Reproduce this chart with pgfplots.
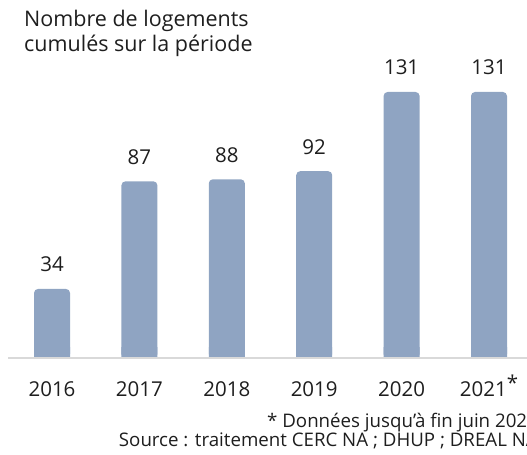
\documentclass[border=0pt]{standalone}
\usepackage{pgfplots}
\pgfplotsset{compat=1.18}
\usepackage{pgfplotstable}
\usepackage{fontspec}
\setmainfont{Open Sans}
\definecolor{barcol}{RGB}{143,164,194}
\definecolor{axcol}{RGB}{217,217,217}
\definecolor{txt}{RGB}{30,30,30}
\pgfplotstableread{
x y
0 34
1 87
2 88
3 92
4 131
5 131
}\datatable
\begin{document}
\begin{tikzpicture}[x=1bp,y=1bp]
\useasboundingbox (0,0) rectangle (527,455);
\clip (0,0) rectangle (527,455);
\pgfplotsset{basegeom/.style={scale only axis, width=524.4bp, xmin=-0.5, xmax=5.5,
  at={(8.3bp,97bp)}, anchor=south west}}
% sharp bottoms of the bars
\begin{axis}[basegeom, height=10.15bp, ymin=0, ymax=5, hide axis, clip=true]
\addplot[ybar, bar width=36bp, fill=barcol, draw=none] table[x=x,y=y]{\datatable};
\end{axis}
\begin{axis}[basegeom, height=284.27bp, ymin=0, ymax=140, clip=false,
  axis on top=true,
  axis x line=bottom, axis y line=none,
  axis line style={-, draw=axcol, line width=2bp},
  xtick={0,...,5},
  xticklabels={2016,2017,2018,2019,2020,{2021\raisebox{0.33em}{*}}},
  major tick length=0pt, ytick=\empty,
  xticklabel style={anchor=base, yshift=-39bp, text=txt, font=\fontsize{20.5bp}{24bp}\selectfont},
  /pgf/number format/assume math mode=true,
  nodes near coords,
  every node near coord/.append style={anchor=base, yshift=17bp, text=txt, font=\fontsize{20.5bp}{24bp}\selectfont},
]
\addplot[ybar, bar width=36bp, fill=barcol, draw=none, rounded corners=4bp] table[x=x,y=y]{\datatable};
\end{axis}
\node[anchor=base west, inner sep=0, text=txt, font=\fontsize{21.5bp}{25bp}\selectfont] at (24,428) {Nombre de logements};
\node[anchor=base west, inner sep=0, text=txt, font=\fontsize{21.5bp}{25bp}\selectfont] at (24,403) {cumulés sur la période};
\node[anchor=base east, inner sep=0, text=txt, font=\fontsize{18.7bp}{22bp}\selectfont] at (538,27) {* Données jusqu’à fin juin 2021};
\node[anchor=base east, inner sep=0, text=txt, font=\fontsize{18.7bp}{22bp}\selectfont] at (538,8) {Source : traitement CERC NA ; DHUP ; DREAL NA};
\end{tikzpicture}
\end{document}
